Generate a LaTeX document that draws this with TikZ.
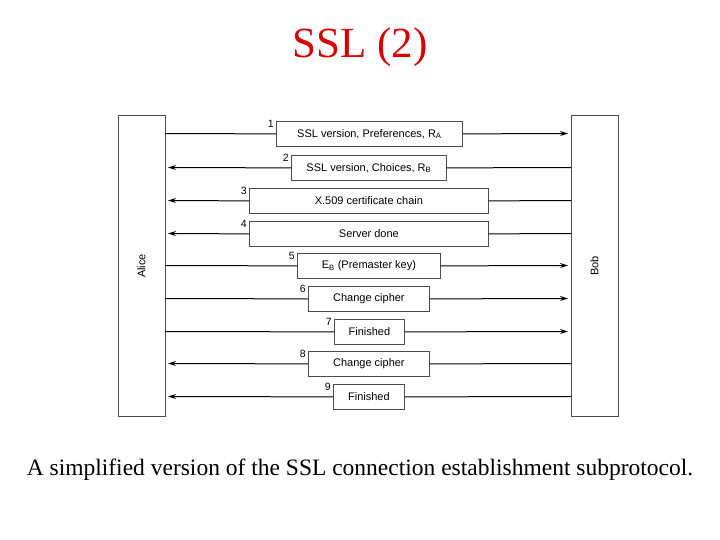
\documentclass[tikz,border=0pt]{standalone}
\usepackage{fontspec}
\setmainfont{Liberation Serif}
\newfontfamily\diag{Liberation Sans}
\usetikzlibrary{arrows.meta}
\begin{document}
\begin{tikzpicture}[x=1pt,y=-1pt,
 party/.style={draw=black!70,line width=0.8pt},
 msg/.style={draw=black!70,line width=0.8pt},
 lab/.style={font=\diag\fontsize{11}{13}\selectfont},
 num/.style={font=\diag\fontsize{10.5}{12}\selectfont,anchor=south east,inner sep=2pt},
 conn/.style={line width=1pt},
 tip/.style={-{Stealth[length=8pt,width=5pt]}}]
\useasboundingbox (0,0) rectangle (720,540);
\node[text=red!85!black,font=\fontsize{43}{48}\selectfont] (title) at (360,47) {SSL (2)};
\node[font=\fontsize{23.5}{28}\selectfont] (cap) at (360,470) {A simplified version of the SSL connection establishment subprotocol.};
\draw[party] (118,115) rectangle (165,416);
\draw[party] (571,115) rectangle (618,416);
\node[lab,rotate=90] (alice) at (141.5,266) {Alice};
\node[lab,rotate=90] (bob) at (594.5,266) {Bob};
\foreach \n/\xa/\xb/\ya/\yb/\t/\d in {
 m1/276/462/121/146/{SSL version, Preferences, R\textsubscript{A}}/r,
 m2/291/446/155/180/{SSL version, Choices, R\textsubscript{B}}/l,
 m3/249/488/188/213/{X.509 certificate chain}/l,
 m4/249/488/221/246/{Server done}/l,
 m5/297/440/253/278/{E\textsubscript{B} (Premaster key)}/r,
 m6/308/429/286/311/{Change cipher}/r,
 m7/334/404/319/344/{Finished}/r,
 m8/308/429/351/376/{Change cipher}/l,
 m9/333/404/384/409/{Finished}/l}{
  \node[msg,lab,minimum width={\xb-\xa},minimum height={\yb-\ya},inner sep=0pt,anchor=north west] (\n) at (\xa,\ya) {\t};
  \coordinate (\n a) at (165,{(\ya+\yb)/2});
  \coordinate (\n b) at (571,{(\ya+\yb)/2});
  \coordinate (\n A) at (168,{(\ya+\yb)/2});
  \coordinate (\n B) at (568,{(\ya+\yb)/2});
  \if r\d
    \draw[conn] (\n a) -- (\n.west);
    \draw[conn,tip] (\n.east) -- (\n B);
  \else
    \draw[conn] (\n b) -- (\n.east);
    \draw[conn,tip] (\n.west) -- (\n A);
  \fi
}
\foreach \n/\k in {m1/1,m2/2,m3/3,m4/4,m5/5,m6/6,m7/7,m8/8,m9/9}
  \node[num] (n\k) at ([yshift=-9pt]\n.north west) {\k};
\end{tikzpicture}
\end{document}
